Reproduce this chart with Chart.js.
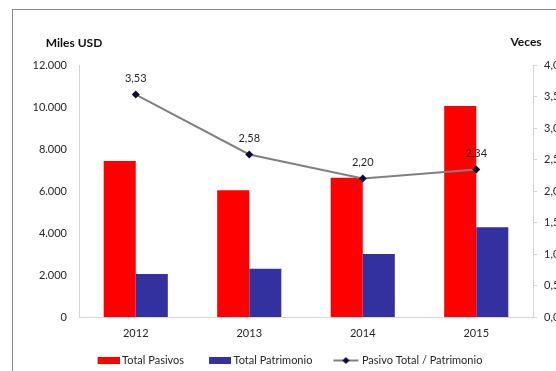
<!DOCTYPE html>
<html>
<head>
<meta charset="utf-8">
<script src="https://cdn.jsdelivr.net/npm/chart.js@4.4.1/dist/chart.umd.min.js"></script>
<style>
    html, body { margin: 0; padding: 0; background: #fff; overflow: hidden; width: 556px; height: 371px; }
    #frame { position: absolute; left: 12px; top: 9px; width: 700px; height: 500px; border: 1px solid #8a8a8a; }
    #chart { position: absolute; left: 0; top: 0; }
</style>
</head>
<body>
<div id="frame"></div>
<canvas id="chart" width="565" height="376"></canvas>
<script>
const years = ['2012', '2013', '2014', '2015'];
const totalPasivos = [7430, 6030, 6630, 10050];
const totalPatrimonio = [2050, 2300, 3000, 4270];
const pasivoPatrimonio = [3.53, 2.58, 2.20, 2.34];
const leftTickLabels = ['0', '2.000', '4.000', '6.000', '8.000', '10.000', '12.000'];
const rightTickLabels = ['0,00', '0,50', '1,00', '1,50', '2,00', '2,50', '3,00', '3,50', '4,00'];

const RED = '#ff0000';
const BLUE = '#3330a0';
const LINE = '#808080';
const MARKER = '#0b0b36';
const TEXT = '#262626';
const AXIS = '#d4d4d4';
const FONT = 'Lato, "Open Sans", sans-serif';
const SIZE = 11;

// legend swatches as small images (extra transparent space on the left
// gives the wider gap between legend entries)
function swatch(color) {
    const c = document.createElement('canvas');
    c.width = 40; c.height = 7;
    const g = c.getContext('2d');
    g.fillStyle = color;
    g.fillRect(18, 0, 22, 7);
    return c;
}
function lineSwatch() {
    const c = document.createElement('canvas');
    c.width = 40; c.height = 9;
    const g = c.getContext('2d');
    g.strokeStyle = LINE;
    g.lineWidth = 2;
    g.beginPath(); g.moveTo(14, 4.5); g.lineTo(39, 4.5); g.stroke();
    g.fillStyle = MARKER;
    g.beginPath(); g.moveTo(26.5, 1); g.lineTo(30, 4.5); g.lineTo(26.5, 8); g.lineTo(23, 4.5); g.closePath(); g.fill();
    return c;
}
const legendIcons = [swatch(RED), swatch(BLUE), lineSwatch()];

const fmt2 = v => v.toFixed(2).replace('.', ',');

// values above the ratio line
const lineLabels = {
    id: 'lineLabels',
    afterDatasetsDraw(chart) {
        const ctx = chart.ctx;
        const meta = chart.getDatasetMeta(2);
        ctx.save();
        ctx.font = SIZE + 'px ' + FONT;
        ctx.fillStyle = TEXT;
        ctx.textAlign = 'center';
        ctx.textBaseline = 'middle';
        meta.data.forEach((pt, i) => {
            ctx.fillText(fmt2(pasivoPatrimonio[i]), pt.x, pt.y - 16);
        });
        ctx.restore();
    }
};

// unit titles above both axes
const axisTitles = {
    id: 'axisTitles',
    afterDraw(chart) {
        const ctx = chart.ctx;
        ctx.save();
        ctx.font = 'bold 12px ' + FONT;
        ctx.fillStyle = '#111';
        ctx.textAlign = 'center';
        ctx.textBaseline = 'middle';
        ctx.fillText('Miles USD', chart.scales.y.right - 5, 43);
        ctx.fillText('Veces', chart.scales.y1.left - 7, 42);
        ctx.restore();
    }
};

const ctx = document.getElementById('chart');
const chart = new Chart(ctx, {
    data: {
        labels: years,
        datasets: [
            {
                type: 'bar',
                label: 'Total Pasivos',
                data: totalPasivos,
                backgroundColor: RED,
                yAxisID: 'y',
                order: 1,
                categoryPercentage: 0.565,
                barPercentage: 1
            },
            {
                type: 'bar',
                label: 'Total Patrimonio',
                data: totalPatrimonio,
                backgroundColor: BLUE,
                yAxisID: 'y',
                order: 1,
                categoryPercentage: 0.565,
                barPercentage: 1
            },
            {
                type: 'line',
                label: 'Pasivo Total / Patrimonio',
                data: pasivoPatrimonio,
                borderColor: LINE,
                borderWidth: 2,
                pointStyle: 'rectRot',
                pointRadius: 4,
                pointBackgroundColor: MARKER,
                pointBorderColor: MARKER,
                pointBorderWidth: 0,
                yAxisID: 'y1',
                order: 0
            }
        ]
    },
    options: {
        responsive: false,
        devicePixelRatio: 1,
        animation: false,
        layout: { padding: { top: 65, left: 0, right: 0, bottom: 0 } },
        plugins: {
            tooltip: { enabled: false },
            legend: {
                position: 'bottom',
                labels: {
                    usePointStyle: true,
                    pointStyleWidth: 34,
                    padding: 10,
                    color: TEXT,
                    font: { size: SIZE, family: FONT },
                    generateLabels(chart) {
                        return chart.data.datasets.map((ds, i) => ({
                            text: ds.label,
                            pointStyle: legendIcons[i],
                            fontColor: TEXT,
                            lineWidth: 0,
                            datasetIndex: i
                        }));
                    }
                }
            }
        },
        scales: {
            x: {
                grid: { display: false, drawTicks: false },
                border: { display: true, color: AXIS },
                ticks: { color: TEXT, padding: 10, font: { size: SIZE, family: FONT } },
                afterFit(scale) { scale.height = 28; }
            },
            y: {
                position: 'left',
                min: 0,
                max: 12000,
                grid: { display: false, drawTicks: false },
                border: { display: true, color: AXIS },
                ticks: {
                    stepSize: 2000,
                    padding: 12,
                    color: TEXT,
                    font: { size: SIZE, family: FONT },
                    callback: (v, i) => leftTickLabels[i]
                },
                afterFit(scale) { scale.width = 79; }
            },
            y1: {
                position: 'right',
                min: 0,
                max: 4,
                grid: { drawOnChartArea: false, drawTicks: true, tickLength: 4, color: AXIS },
                border: { display: true, color: AXIS },
                ticks: {
                    stepSize: 0.5,
                    padding: 7,
                    color: TEXT,
                    font: { size: SIZE, family: FONT },
                    callback: (v, i) => rightTickLabels[i]
                },
                afterFit(scale) { scale.width = 32; }
            }
        }
    },
    plugins: [lineLabels, axisTitles]
});
</script>
</body>
</html>
